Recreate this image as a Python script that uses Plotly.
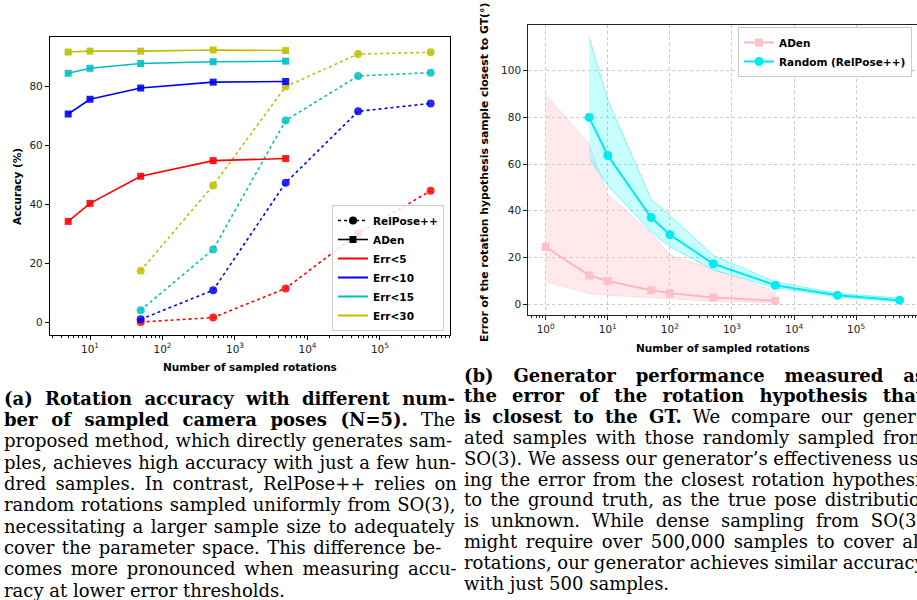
import plotly.graph_objects as go

W, H = 917, 600

# ---------------- data: left panel (accuracy) ----------------
aden_x = [5, 10, 50, 500, 5000]
aden_err5 = [34.3, 40.4, 49.6, 54.9, 55.6]
aden_err10 = [70.7, 75.7, 79.5, 81.5, 81.7]
aden_err15 = [84.5, 86.2, 87.8, 88.4, 88.6]
aden_err30 = [91.7, 92.0, 92.0, 92.4, 92.2]

relpose_x = [50, 500, 5000, 50000, 500000]
relpose_err5 = [0.2, 1.7, 11.6, 30.2, 44.7]
relpose_err10 = [1.1, 11.0, 47.4, 71.6, 74.3]
relpose_err15 = [4.2, 24.8, 68.5, 83.6, 84.7]
relpose_err30 = [17.6, 46.5, 80.0, 91.0, 91.6]

thresholds = ["Err<5", "Err<10", "Err<15", "Err<30"]
thr_colors = ["#ff0000", "#0000ff", "#00bfbf", "#bfbf00"]

# ---------------- data: right panel (closest-sample error) ----------------
gen_x = [1, 5, 10, 50, 100, 500, 5000]
gen_mean = [24.5, 12.3, 9.9, 5.9, 4.7, 2.8, 1.4]
gen_upper = [90.0, 68.6, 47.0, 30.5, 21.0, 15.0, 5.5]
gen_lower = [9.6, 4.5, 3.8, 2.6, 2.2, 1.2, 0.6]

rand_x = [5, 10, 50, 100, 500, 5000, 50000, 500000]
rand_mean = [80.0, 63.7, 37.1, 29.7, 17.3, 8.1, 3.8, 1.7]
rand_upper = [114.5, 87.4, 44.8, 38.0, 20.8, 9.5, 4.6, 2.6]
rand_lower = [62.4, 50.8, 31.0, 24.6, 14.6, 7.0, 3.1, 1.0]

xtick_vals = [1, 10, 100, 1000, 10000, 100000]
xtick_text = ["10<sup>0</sup>", "10<sup>1</sup>", "10<sup>2</sup>", "10<sup>3</sup>", "10<sup>4</sup>", "10<sup>5</sup>"]

cap_a = [
    "<b>(a) Rotation accuracy with different num-</b>",
    "<b>ber of sampled camera poses (N=5).</b> The",
    "proposed method, which directly generates sam-",
    "ples, achieves high accuracy with just a few hun-",
    "dred samples. In contrast, RelPose++ relies on",
    "random rotations sampled uniformly from SO(3),",
    "necessitating a larger sample size to adequately",
    "cover the parameter space. This difference be-",
    "comes more pronounced when measuring accu-",
    "racy at lower error thresholds.",
]
cap_b = [
    "<b>(b) Generator performance measured as</b>",
    "<b>the error of the rotation hypothesis that</b>",
    "<b>is closest to the GT.</b> We compare our gener-",
    "ated samples with those randomly sampled from",
    "SO(3). We assess our generator\u2019s effectiveness us-",
    "ing the error from the closest rotation hypothesis",
    "to the ground truth, as the true pose distribution",
    "is unknown. While dense sampling from SO(3)",
    "might require over 500,000 samples to cover all",
    "rotations, our generator achieves similar accuracy",
    "with just 500 samples.",
]
# word spacing (px) per caption line to imitate justified text
ws_a = [6.0, 7.4, 0.4, 0.5, 3.5, 0.9, 1.6, 1.7, 3.1, 0]
ws_b = [13.6, 9.0, 5.0, 3.0, 0.0, 2.0, 2.5, 6.0, 2.9, -0.2, 0]

fig = go.Figure()

# ---------------- left panel traces ----------------
aden_sets = [aden_err5, aden_err10, aden_err15, aden_err30]
rel_sets = [relpose_err5, relpose_err10, relpose_err15, relpose_err30]
for vals, col in zip(rel_sets, thr_colors):
    fig.add_trace(go.Scatter(x=relpose_x, y=vals, mode="lines+markers",
                             line=dict(color=col, width=1.6, dash="dot"),
                             marker=dict(symbol="circle", size=8, color=col, opacity=0.85),
                             showlegend=False, xaxis="x", yaxis="y"))
for vals, col in zip(aden_sets, thr_colors):
    fig.add_trace(go.Scatter(x=aden_x, y=vals, mode="lines+markers",
                             line=dict(color=col, width=1.6),
                             marker=dict(symbol="square", size=7, color=col, opacity=0.9),
                             showlegend=False, xaxis="x", yaxis="y"))

# legend entries (left)
fig.add_trace(go.Scatter(x=[None], y=[None], mode="lines+markers", name="RelPose++",
                         line=dict(color="black", width=1.6, dash="dot"),
                         marker=dict(symbol="circle", size=8, color="black"),
                         legend="legend", xaxis="x", yaxis="y"))
fig.add_trace(go.Scatter(x=[None], y=[None], mode="lines+markers", name="ADen",
                         line=dict(color="black", width=1.6),
                         marker=dict(symbol="square", size=7, color="black"),
                         legend="legend", xaxis="x", yaxis="y"))
for name, col in zip(thresholds, thr_colors):
    fig.add_trace(go.Scatter(x=[None], y=[None], mode="lines", name=name,
                             line=dict(color=col, width=2),
                             legend="legend", xaxis="x", yaxis="y"))

# ---------------- right panel traces ----------------
fig.add_trace(go.Scatter(x=gen_x + gen_x[::-1], y=gen_upper + gen_lower[::-1],
                         fill="toself", fillcolor="rgba(255,192,203,0.35)",
                         line=dict(color="rgba(255,192,203,0.55)", width=0.8),
                         mode="lines", showlegend=False, hoverinfo="skip",
                         xaxis="x2", yaxis="y2"))
fig.add_trace(go.Scatter(x=rand_x + rand_x[::-1], y=rand_upper + rand_lower[::-1],
                         fill="toself", fillcolor="rgba(0,255,255,0.22)",
                         line=dict(color="rgba(0,230,240,0.55)", width=0.8),
                         mode="lines", showlegend=False, hoverinfo="skip",
                         xaxis="x2", yaxis="y2"))
fig.add_trace(go.Scatter(x=gen_x, y=gen_mean, mode="lines+markers", name="ADen",
                         line=dict(color="#ffb6c1", width=2),
                         marker=dict(symbol="square", size=8, color="#ffc0cb"),
                         legend="legend2", xaxis="x2", yaxis="y2"))
fig.add_trace(go.Scatter(x=rand_x, y=rand_mean, mode="lines+markers", name="Random (RelPose++)",
                         line=dict(color="#00e8f2", width=2),
                         marker=dict(symbol="circle", size=9, color="#00eaf4"),
                         legend="legend2", xaxis="x2", yaxis="y2"))

tickfont = dict(family="DejaVu Sans", size=10.5, color="#222")
lab_font = dict(family="DejaVu Sans", size=10.5, color="black", weight="bold")

minor_vals = []
for d in [0.1, 1, 10, 100, 1000, 10000, 100000]:
    for k in range(2, 10):
        minor_vals.append(k * d)

fig.update_layout(
    width=W, height=H,
    margin=dict(l=0, r=0, t=0, b=0),
    paper_bgcolor="white", plot_bgcolor="white",
    font=dict(family="DejaVu Sans", color="black"),
    xaxis=dict(type="log", domain=[50 / W, 450 / W], range=[0.448, 5.966],
               tickvals=xtick_vals, ticktext=xtick_text, tickfont=tickfont,
               ticks="outside", ticklen=4, tickcolor="black",
               showline=True, linecolor="black", linewidth=1.2, mirror=True,
               showgrid=False, zeroline=False,
               minor=dict(tickvals=minor_vals, ticks="outside", ticklen=2, tickcolor="black")),
    yaxis=dict(domain=[1 - 335 / H, 1 - 37 / H], range=[-4.2, 96.8],
               tickvals=[0, 20, 40, 60, 80], tickfont=tickfont,
               ticks="outside", ticklen=4, tickcolor="black",
               showline=True, linecolor="black", linewidth=1.2, mirror=True,
               showgrid=False, zeroline=False),
    xaxis2=dict(type="log", domain=[528.3 / W, 1.0], range=[-0.28, 5.98], anchor="y2",
                tickvals=xtick_vals, ticktext=xtick_text, tickfont=tickfont,
                ticks="outside", ticklen=4, tickcolor="#222",
                showline=True, linecolor="#222", linewidth=1.2, mirror=True,
                showgrid=True, gridcolor="#c8c8c8", griddash="dot", gridwidth=0.8,
                zeroline=False,
                minor=dict(tickvals=minor_vals, ticks="outside", ticklen=2, tickcolor="#222")),
    yaxis2=dict(domain=[1 - 315.3 / H, 1 - 25 / H], range=[-4.8, 119.6], anchor="x2",
                tickvals=[0, 20, 40, 60, 80, 100], tickfont=tickfont,
                ticks="outside", ticklen=4, tickcolor="#222",
                showline=True, linecolor="#222", linewidth=1.2, mirror=False,
                showgrid=True, gridcolor="#c8c8c8", griddash="dot", gridwidth=0.8,
                zeroline=False),
    legend=dict(x=444 / W, y=1 - 331 / H, xanchor="right", yanchor="bottom",
                bgcolor="rgba(255,255,255,0.85)", bordercolor="#cccccc", borderwidth=1,
                font=dict(family="DejaVu Sans", size=10.5, color="black", weight="bold"),
                tracegroupgap=0, itemwidth=30),
    legend2=dict(x=912 / W, y=1 - 27 / H, xanchor="right", yanchor="top",
                 bgcolor="rgba(255,255,255,0.85)", bordercolor="#cccccc", borderwidth=1,
                 font=dict(family="DejaVu Sans", size=10.5, color="black", weight="bold"),
                 tracegroupgap=0, itemwidth=30),
)

ann = []
ann.append(dict(text="Accuracy (%)", x=17 / W, y=1 - 187 / H, xref="paper", yref="paper",
                textangle=-90, showarrow=False, font=lab_font, xanchor="center", yanchor="middle"))
ann.append(dict(text="Number of sampled rotations", x=250 / W, y=1 - 367 / H, xref="paper", yref="paper",
                showarrow=False, font=lab_font, xanchor="center", yanchor="middle"))
ann.append(dict(text="Error of the rotation hypothesis sample closest to GT(\u00b0)", x=485 / W, y=1 - 172 / H,
                xref="paper", yref="paper", textangle=-90, showarrow=False,
                font=dict(family="DejaVu Sans", size=10.8, color="black", weight="bold"),
                xanchor="center", yanchor="middle"))
ann.append(dict(text="Number of sampled rotations", x=722.7 / W, y=1 - 347.7 / H, xref="paper", yref="paper",
                showarrow=False, font=lab_font, xanchor="center", yanchor="middle"))

cap_font = dict(family="DejaVu Serif", size=18, color="black")
for i, line in enumerate(cap_a):
    yc = 398.3 + i * 21.3
    ann.append(dict(text="<span style=\"word-spacing:%.1fpx\">%s</span>" % (ws_a[i], line),
                    x=2 / W, y=1 - yc / H, xref="paper", yref="paper",
                    showarrow=False, font=cap_font, xanchor="left", yanchor="middle", align="left"))
for i, line in enumerate(cap_b):
    yc = 375 + i * 20.8
    ann.append(dict(text="<span style=\"word-spacing:%.1fpx\">%s</span>" % (ws_b[i], line),
                    x=462 / W, y=1 - yc / H, xref="paper", yref="paper",
                    showarrow=False, font=cap_font, xanchor="left", yanchor="middle", align="left"))

fig.update_layout(annotations=ann)
fig.write_html("out.html")
